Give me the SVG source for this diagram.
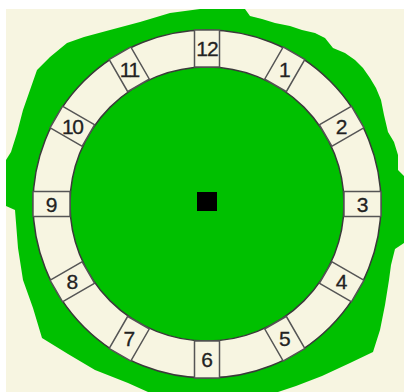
<svg xmlns="http://www.w3.org/2000/svg" width="404" height="392" viewBox="0 0 404 392">
<style>
.box{fill:#f7f5e1;stroke:#555;stroke-width:1.5}
.num{font-family:"Liberation Sans","DejaVu Sans",sans-serif;font-size:21px;fill:#222;stroke:#222;stroke-width:0.3;text-anchor:middle;dominant-baseline:central}
</style>
<rect x="0" y="0" width="404" height="392" fill="#ffffff"/>
<rect x="6" y="9" width="398" height="383" fill="#f7f5e1"/>
<path id="blob" fill="#00c000" d="M200,9 L245,9 L250,16 L262,19 L275,23 L290,26 L302,30 L315,33 L325,38 L333,48 L345,53 L355,60 L363,68 L370,78 L376,88 L381,100 L384,115 L388,132 L394,142 L398,155 L398,170 L404,176 L404,243 L395,249 L391,265 L389,280 L385,305 L380,330 L373,352 L350,363 L322,376 L296,386 L278,392 L148,392 L128,383 L95,370 L68,354 L42,338 L33,308 L23,280 L18,248 L15,210 L6,206 L6,160 L11,152 L17,133 L23,110 L30,90 L37,70 L50,57 L67,43 L84,37 L110,30 L140,22 L170,13 Z"/>
<g id="ring">
<circle cx="207" cy="204" r="174" fill="#f7f5e1" stroke="#3a3a3a" stroke-width="1.5"/>
<circle cx="207" cy="204" r="137" fill="#00c000" stroke="#3a3a3a" stroke-width="1.5"/>
</g>
<g id="n12"><rect class="box" x="194.5" y="30" width="25" height="37"/><text class="num" x="207" y="48.5" letter-spacing="-1">12</text></g>
<g id="n1"><rect class="box" x="194.5" y="30" width="25" height="37" transform="rotate(30 207 204)"/><text class="num" x="284.75" y="69.3">1</text></g>
<g id="n2"><rect class="box" x="194.5" y="30" width="25" height="37" transform="rotate(60 207 204)"/><text class="num" x="341.7" y="126.3">2</text></g>
<g id="n3"><rect class="box" x="194.5" y="30" width="25" height="37" transform="rotate(90 207 204)"/><text class="num" x="362.5" y="204">3</text></g>
<g id="n4"><rect class="box" x="194.5" y="30" width="25" height="37" transform="rotate(120 207 204)"/><text class="num" x="341.7" y="281.75">4</text></g>
<g id="n5"><rect class="box" x="194.5" y="30" width="25" height="37" transform="rotate(150 207 204)"/><text class="num" x="284.75" y="338.7">5</text></g>
<g id="n6"><rect class="box" x="194.5" y="30" width="25" height="37" transform="rotate(180 207 204)"/><text class="num" x="207" y="359.5">6</text></g>
<g id="n7"><rect class="box" x="194.5" y="30" width="25" height="37" transform="rotate(210 207 204)"/><text class="num" x="129.25" y="338.7">7</text></g>
<g id="n8"><rect class="box" x="194.5" y="30" width="25" height="37" transform="rotate(240 207 204)"/><text class="num" x="72.3" y="281.75">8</text></g>
<g id="n9"><rect class="box" x="194.5" y="30" width="25" height="37" transform="rotate(270 207 204)"/><text class="num" x="51.5" y="204">9</text></g>
<g id="n10"><rect class="box" x="194.5" y="30" width="25" height="37" transform="rotate(300 207 204)"/><text class="num" x="72.3" y="126.3" letter-spacing="-1.5">10</text></g>
<g id="n11"><rect class="box" x="194.5" y="30" width="25" height="37" transform="rotate(330 207 204)"/><text class="num" x="129.25" y="69.3" letter-spacing="-1.5">11</text></g>
<g id="connectors"></g>
<rect id="center" x="197" y="192" width="20" height="19" fill="#000"/>
</svg>
